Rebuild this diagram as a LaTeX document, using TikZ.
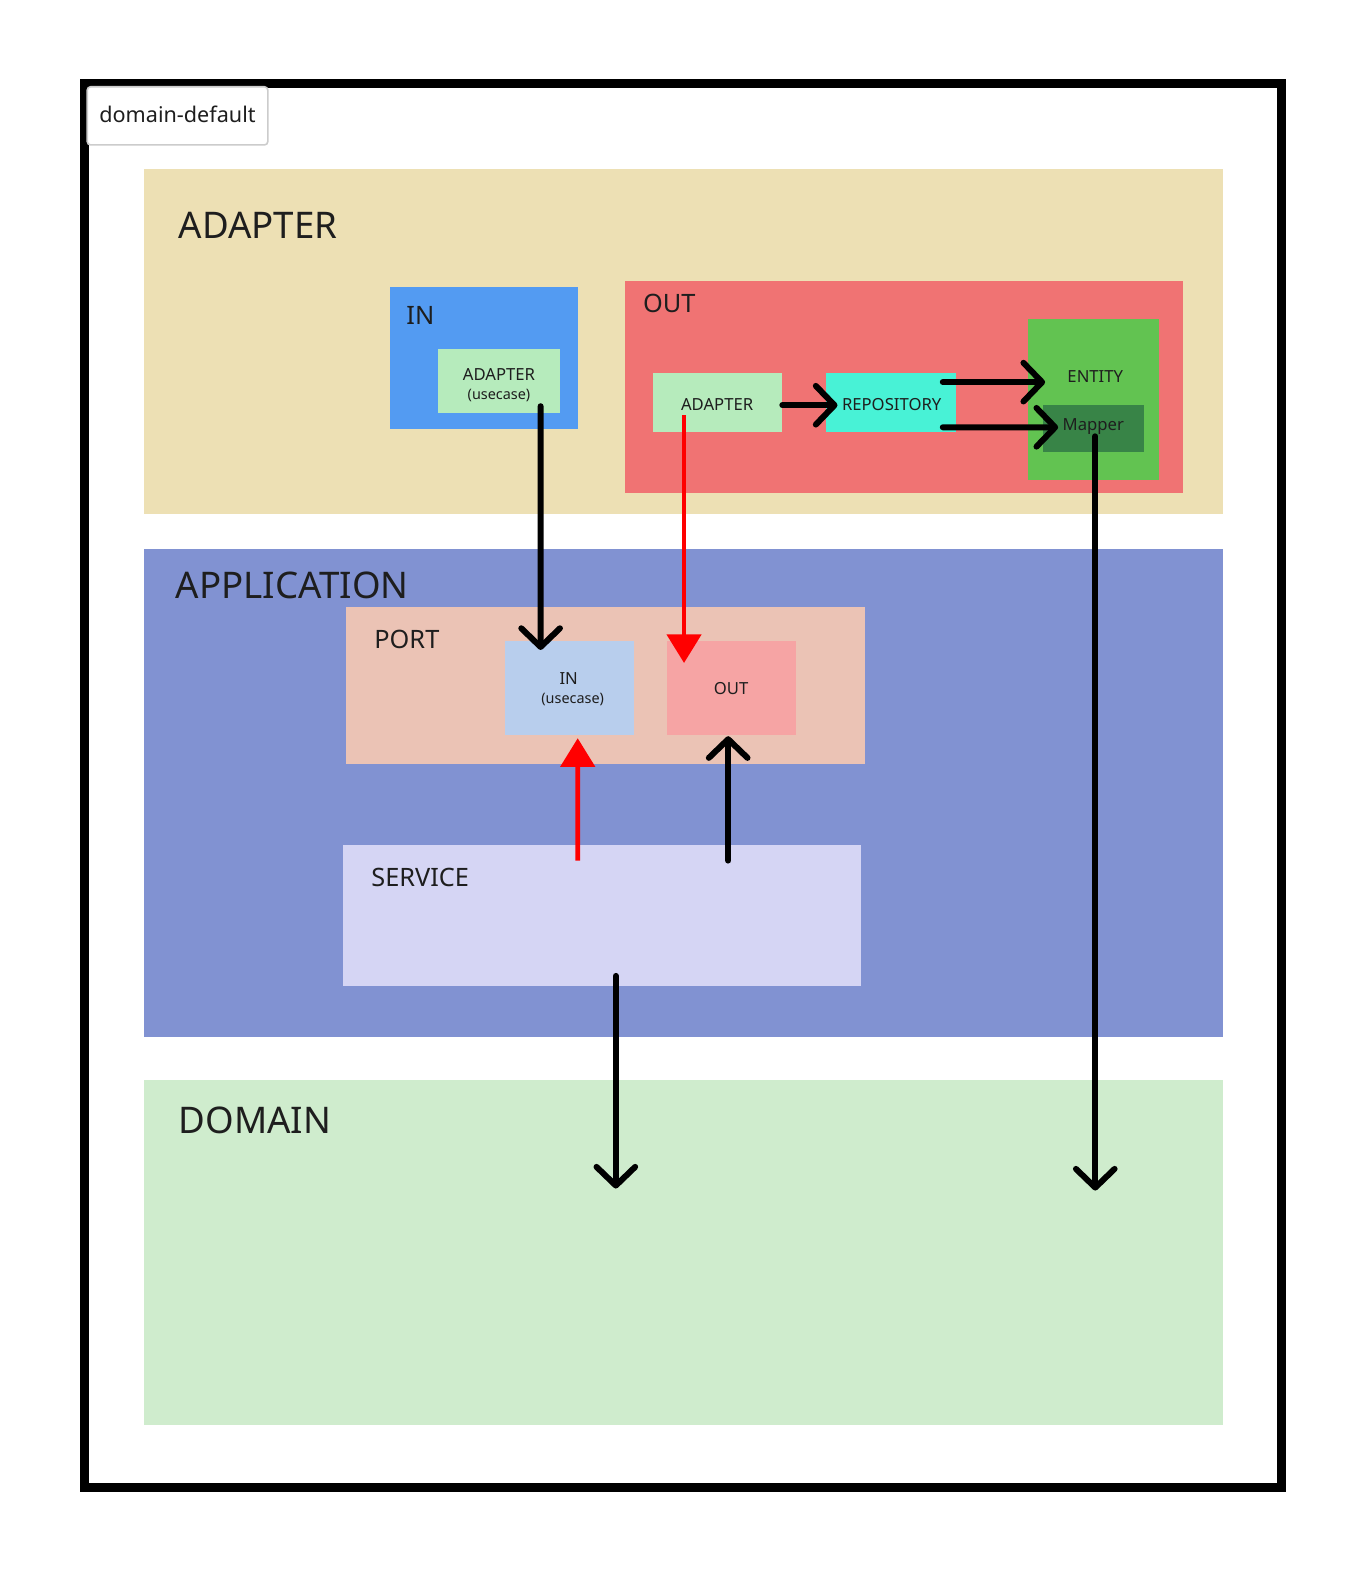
\documentclass[tikz,border=0pt]{standalone}
\usepackage{fontspec}
\setmainfont{Noto Sans}
\usetikzlibrary{arrows.meta,calc}
\definecolor{cAdLayer}{RGB}{237,224,180}
\definecolor{cInBlue}{RGB}{83,155,242}
\definecolor{cLtGreen}{RGB}{182,235,188}
\definecolor{cOutRed}{RGB}{240,115,115}
\definecolor{cRepo}{RGB}{72,242,214}
\definecolor{cEntity}{RGB}{98,195,81}
\definecolor{cMapper}{RGB}{56,132,71}
\definecolor{cApp}{RGB}{129,146,210}
\definecolor{cPort}{RGB}{235,195,181}
\definecolor{cPortIn}{RGB}{184,206,237}
\definecolor{cPortOut}{RGB}{246,164,164}
\definecolor{cService}{RGB}{213,213,244}
\definecolor{cDomain}{RGB}{207,236,205}
\definecolor{cText}{RGB}{30,30,30}
\begin{document}
\begin{tikzpicture}[x=0.75225pt,y=-0.75225pt,
  box/.style={draw=none,inner sep=0pt,outer sep=0pt},
  sz/.style 2 args={minimum width=#1*0.75225pt,minimum height=#2*0.75225pt},
  bigtxt/.style={anchor=west,inner sep=0pt,text=cText,font=\fontsize{27.5}{30}\selectfont},
  midtxt/.style={anchor=west,inner sep=0pt,text=cText,font=\fontsize{19}{21}\selectfont},
  smalltxt/.style={inner sep=0pt,text=cText,font=\fontsize{12.5}{14}\selectfont},
  tinytxt/.style={inner sep=0pt,text=cText,font=\fontsize{10.8}{12}\selectfont},
  blackarrow/.style={draw=black,line width=4.5pt,line cap=round,-{Straight Barb[length=14pt,width=29pt,line cap=round,line join=round]}},
  redarrow/.style={draw=red,line width=3.6pt,-{Triangle[length=21.5pt,width=25.5pt]}},
]
\useasboundingbox (0pt,0pt) rectangle (1024.5pt,-1179pt);
\fill[white] (0pt,0pt) rectangle (1024.5pt,-1179pt);

% outer frame
\node[box,draw=black,line width=6.8pt,sz={1194}{1400}] (frame) at (681,783) {};
\node[box,draw=black!20,line width=1.2pt,rounded corners=2.5pt,fill=white,sz={180}{58}] (tag) at (177,115.5) {};
\node[inner sep=0pt,text=cText,font=\fontsize{16.2}{18}\selectfont] (tagtxt) at (177,114) {domain-default};

% ADAPTER layer
\node[box,fill=cAdLayer,sz={1075}{344}] (adlayer) at (681.5,340) {};
\node[bigtxt] (adlbl) at (178,225) {ADAPTER};
\node[box,fill=cInBlue,sz={187}{142}] (inbox) at (482.5,357) {};
\node[midtxt] (inlbl) at (405,315) {IN};
\node[box,fill=cLtGreen,sz={121}{64}] (uc) at (497.5,380) {};
\node[smalltxt] (uct1) at (497.5,373) {ADAPTER};
\node[tinytxt] (uct2) at (497.5,394) {(usecase)};

\node[box,fill=cOutRed,sz={556}{212}] (outbox) at (901,386) {};
\node[midtxt] (outlbl) at (641,303) {OUT};
\node[box,fill=cLtGreen,sz={129}{59}] (ad2) at (715.5,401.5) {};
\node[smalltxt] (ad2t) at (715,403) {ADAPTER};
\node[box,fill=cRepo,sz={129}{59}] (repo) at (888.5,401.5) {};
\node[smalltxt] (repot) at (889,403) {REPOSITORY};
\node[box,fill=cEntity,sz={131}{161}] (entity) at (1090.5,398.5) {};
\node[smalltxt] (entt) at (1092,375) {ENTITY};
\node[box,fill=cMapper,sz={101}{47}] (mapper) at (1090.5,427.5) {};
\node[smalltxt] (mapt) at (1090,425) {Mapper};

% APPLICATION layer
\node[box,fill=cApp,sz={1075}{487}] (app) at (681.5,790.5) {};
\node[bigtxt] (applbl) at (175,584) {APPLICATION};
\node[box,fill=cPort,sz={517}{157}] (port) at (603.5,683.5) {};
\node[midtxt] (portlbl) at (373,638) {PORT};
\node[box,fill=cPortIn,sz={129}{94}] (portin) at (567.5,686) {};
\node[smalltxt] (pint1) at (567,677) {IN};
\node[tinytxt] (pint2) at (571,697) {(usecase)};
\node[box,fill=cPortOut,sz={129}{94}] (portout) at (729.5,686) {};
\node[smalltxt] (poutt) at (729,686) {OUT};
\node[box,fill=cService,sz={516}{141}] (service) at (600,912.5) {};
\node[midtxt] (servlbl) at (370,875) {SERVICE};

% DOMAIN layer
\node[box,fill=cDomain,sz={1075}{344}] (domain) at (681.5,1249) {};
\node[bigtxt] (domlbl) at (178,1117) {DOMAIN};

% connectors
\draw[blackarrow] ($(uc.south)+(41.5,-7)$) -- ($(portin.north)+(-28.5,9)$);
\draw[redarrow] ($(ad2.south)+(-33.5,-17)$) -- ($(portout.north)+(-47.5,22)$);
\draw[blackarrow] ($(ad2.east)+(0,2.5)$) -- ($(repo.west)+(11,2.5)$);
\draw[blackarrow] ($(repo.east)+(-13,-20.5)$) -- ($(entity.west)+(17,-17.5)$);
\draw[blackarrow] ($(repo.east)+(-13,24.5)$) -- ($(mapper.west)+(15,-1.5)$);
\draw[redarrow] ($(service.north)+(-24,16)$) -- ($(portin.south)+(8.5,3)$);
\draw[blackarrow] ($(service.north)+(126,16)$) -- ($(portout.south)+(-3.5,1)$);
\draw[blackarrow] ($(service.south)+(14,-10)$) -- ($(domain.center)+(-67.5,-64)$);
\draw[blackarrow] ($(mapper.center)+(1.5,7.5)$) -- ($(domain.center)+(410.5,-62)$);
\end{tikzpicture}
\end{document}
